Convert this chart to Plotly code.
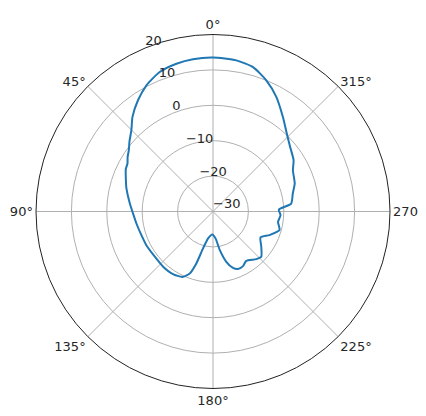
import plotly.graph_objects as go

# Radiation pattern (angle in degrees, gain in dB)
theta_deg = [0, 7.5, 13.9, 20.9, 27.8, 34.0, 40.4, 45.0, 50.0, 54.0, 57.5, 60.7, 64.0, 68.4, 75.1,
             84.5, 91.4, 98.9, 108.3, 116.8, 127.8, 137.9, 147.4, 154.9, 159.4, 162.2, 164.9,
             169.5, 178.3, 185.6, 190.0, 194.8, 199.5, 203.4, 208.8, 214.0, 222.3, 226.8,
             233.8, 241.4, 247.3, 254.4, 261.0, 266.9, 271.7, 275.8, 282.7, 288.9, 297.3,
             302.5, 309.9, 316.5, 323.5, 331.1, 337.9, 344.5, 351.2, 360]
gain_db = [13.5, 13.4, 13.0, 12.2, 10.3, 7.9, 5.1, 2.6, 0.8, -0.6, -1.4, -2.3, -2.6, -3.5, -4.7,
           -6.4, -7.4, -8.1, -8.7, -8.9, -9.2, -9.0, -9.0, -9.6, -11.3, -14.6, -19.2,
           -22.2, -23.5, -22.3, -18.9, -15.3, -13.1, -12.3, -12.4, -13.2, -11.8, -11.3,
           -13.1, -14.7, -12.7, -10.5, -11.4, -10.9, -11.4, -7.8, -6.9, -5.6, -4.6,
           -3.0, -1.6, 0.3, 3.2, 7.0, 10.0, 12.3, 13.2, 13.5]

r_ticks = [-30, -20, -10, 0, 10, 20]
r_tick_labels = ["\u221230", "\u221220", "\u221210", "0", "10", "20"]
r_label_angle = 22.5
theta_ticks = [0, 45, 90, 135, 180, 225, 270, 315]
theta_tick_labels = ["0°", "45°", "90°", "135°", "180°", "225°", "270°", "315°"]

txt_font = dict(family="DejaVu Sans", size=13, color="#262626")

fig = go.Figure()
fig.add_trace(go.Scatterpolar(
    theta=theta_deg, r=gain_db, mode="lines",
    line=dict(color="#1f77b4", width=2, shape="spline", smoothing=0.6),
    showlegend=False, hoverinfo="skip"))
# radial tick labels placed like matplotlib's (bottom-left at 22.5° on each ring)
fig.add_trace(go.Scatterpolar(
    theta=[r_label_angle] * len(r_ticks), r=r_ticks, text=r_tick_labels,
    mode="text", textposition="top right", cliponaxis=False,
    textfont=txt_font, showlegend=False, hoverinfo="skip"))

grid = "#b0b0b0"
# page body has an 8px margin: figure is 8px smaller so that it ends at the window edge
W, H = 418, 408
cx, cy, R = 205.0, 203.5, 177.0  # circle centre/radius in figure pixels
fig.update_layout(
    width=W, height=H,
    margin=dict(l=0, r=0, t=0, b=0, autoexpand=False),
    paper_bgcolor="white",
    font=txt_font,
    polar=dict(
        domain=dict(x=[(cx - R) / W, (cx + R) / W],
                    y=[(H - cy - R) / H, (H - cy + R) / H]),
        bgcolor="white",
        angularaxis=dict(
            rotation=90, direction="counterclockwise",
            tickmode="array", tickvals=theta_ticks, ticktext=theta_tick_labels,
            ticks="", showline=True, linecolor="#222222", linewidth=1,
            gridcolor=grid, gridwidth=1, tickfont=txt_font),
        radialaxis=dict(
            range=[-30, 20], tickmode="array", tickvals=r_ticks,
            showticklabels=False, angle=112.5, showline=False, ticks="",
            gridcolor=grid, gridwidth=1),
    ),
)

fig.write_html("out.html")
